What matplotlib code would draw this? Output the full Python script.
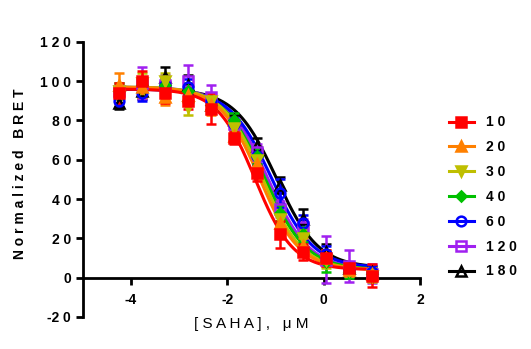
import matplotlib
matplotlib.use("Agg")
import matplotlib.pyplot as plt
from matplotlib.lines import Line2D
import numpy as np

plt.rcParams["font.family"] = ["Liberation Sans", "DejaVu Sans"]

# log10 [SAHA] (uM), 3-fold dilutions from 10 uM
log_conc = [-4.248, -3.771, -3.294, -2.817, -2.340, -1.863,
            -1.386, -0.908, -0.431, 0.046, 0.523, 1.0]

series_names = ["10", "20", "30", "40", "60", "120", "180"]

bret_10 = [94, 100, 94, 90, 86, 71, 53, 22, 13, 10, 5, 1]
bret_20 = [98, 97, 92, 93, 88, 72, 58, 28, 16, 10, 4, 2]
bret_30 = [95, 99, 100, 87, 90, 76, 60, 30, 20, 9, 4, 1]
bret_40 = [95, 98, 98, 95, 88, 80, 62, 33, 22, 8, 3, 2]
bret_60 = [90, 94, 98, 97, 90, 78, 62, 43, 28, 12, 4, 3]
bret_120 = [95, 99, 98, 100, 92, 78, 64, 35, 26, 9, 6, 2]
bret_180 = [89, 95, 102, 98, 88, 80, 67, 47, 30, 13, 5, 3]

err_10 = [5, 5, 5, 4, 8, 3, 4, 7, 4, 4, 3, 6]
err_20 = [6, 5, 4, 4, 5, 3, 4, 4, 4, 4, 3, 3]
err_30 = [4, 5, 4, 4, 4, 3, 4, 4, 4, 4, 3, 3]
err_40 = [4, 4, 4, 4, 4, 4, 4, 4, 4, 5, 3, 3]
err_60 = [3, 4, 4, 4, 4, 3, 4, 7, 4, 4, 3, 3]
err_120 = [4, 8, 5, 8, 6, 3, 4, 4, 4, 12, 8, 5]
err_180 = [3, 4, 5, 5, 4, 3, 4, 4, 5, 4, 3, 3]

# 4PL fit parameters
fit_top = [96, 97, 97, 97, 96, 97, 96]
fit_bottom = [4, 4, 4, 4, 5, 4, 5]
fit_logic50 = [-1.42, -1.33, -1.27, -1.22, -1.08, -1.16, -0.98]
fit_hill = [1.1, 1.05, 1.05, 1.0, 1.0, 1.0, 1.0]

values = [bret_10, bret_20, bret_30, bret_40, bret_60, bret_120, bret_180]
errors = [err_10, err_20, err_30, err_40, err_60, err_120, err_180]
colors = ["#FF0000", "#FF8000", "#BFBF00", "#00C000", "#0000FF", "#A020F0", "#000000"]
markers = ["s", "^", "v", "D", "o", "s", "^"]
filled = [True, True, True, True, False, False, False]
msizes = [7, 7, 7, 5, 7, 7, 7]


def spaced(s):
    # wide letter spacing like the original figure; keep a leading minus attached
    if s.startswith("-"):
        return "-" + " ".join(s[1:])
    return " ".join(s)


fig = plt.figure(figsize=(5.31, 3.49), dpi=100)
ax = fig.add_axes([0.156, 0.092, 0.635, 0.788])

xs = np.linspace(-4.3, 1.05, 200)
for i in reversed(range(len(series_names))):
    c = colors[i]
    fc = c if filled[i] else "none"
    ys = fit_bottom[i] + (fit_top[i] - fit_bottom[i]) / (1 + 10 ** ((xs - fit_logic50[i]) * fit_hill[i]))
    ax.plot(xs, ys, color=c, lw=2.2, zorder=2)
    ax.errorbar(log_conc, values[i], yerr=errors[i], fmt=markers[i], color=c, mfc=fc, mec=c,
                mew=1.8, ms=msizes[i], elinewidth=1.8, capsize=3.5, capthick=1.8, zorder=3)

handles = []
for i in range(len(series_names)):
    c = colors[i]
    fc = c if filled[i] else "none"
    handles.append(Line2D([], [], color=c, lw=2.2, marker=markers[i], mfc=fc, mec=c,
                          mew=1.8, ms=msizes[i]))

ax.set_xlim(-5, 2)
ax.set_ylim(-20, 120)
ax.spines["top"].set_visible(False)
ax.spines["right"].set_visible(False)
ax.spines["bottom"].set_position(("data", 0))
ax.spines["left"].set_linewidth(2)
ax.spines["bottom"].set_linewidth(2)
ax.set_xticks([-4, -2, 0, 2])
ax.set_yticks(range(-20, 121, 20))
ax.set_xticklabels([spaced(f"{t}") for t in [-4, -2, 0, 2]], fontweight="bold", fontsize=10)
ax.set_yticklabels([spaced(f"{t}") for t in range(-20, 121, 20)], fontweight="bold", fontsize=10)
ax.tick_params(width=2, length=5, direction="out")
ax.tick_params(axis="x", pad=6)

ax.set_ylabel("N o r m a l i z e d   B R E T", fontweight="bold", fontsize=10)
ax.yaxis.set_label_coords(-0.165, 0.52)
ax.set_xlabel("[ S A H A ] ,   μ M", fontsize=11)
ax.xaxis.set_label_coords(0.5, -0.0)

ax.legend(handles, [spaced(n) for n in series_names], loc="upper left",
          bbox_to_anchor=(0.822, 0.705), bbox_transform=fig.transFigure,
          frameon=False, handlelength=1.8, handletextpad=0.9, labelspacing=0.78,
          prop={"weight": "bold", "size": 10})

fig.savefig("out.png", dpi=100)
